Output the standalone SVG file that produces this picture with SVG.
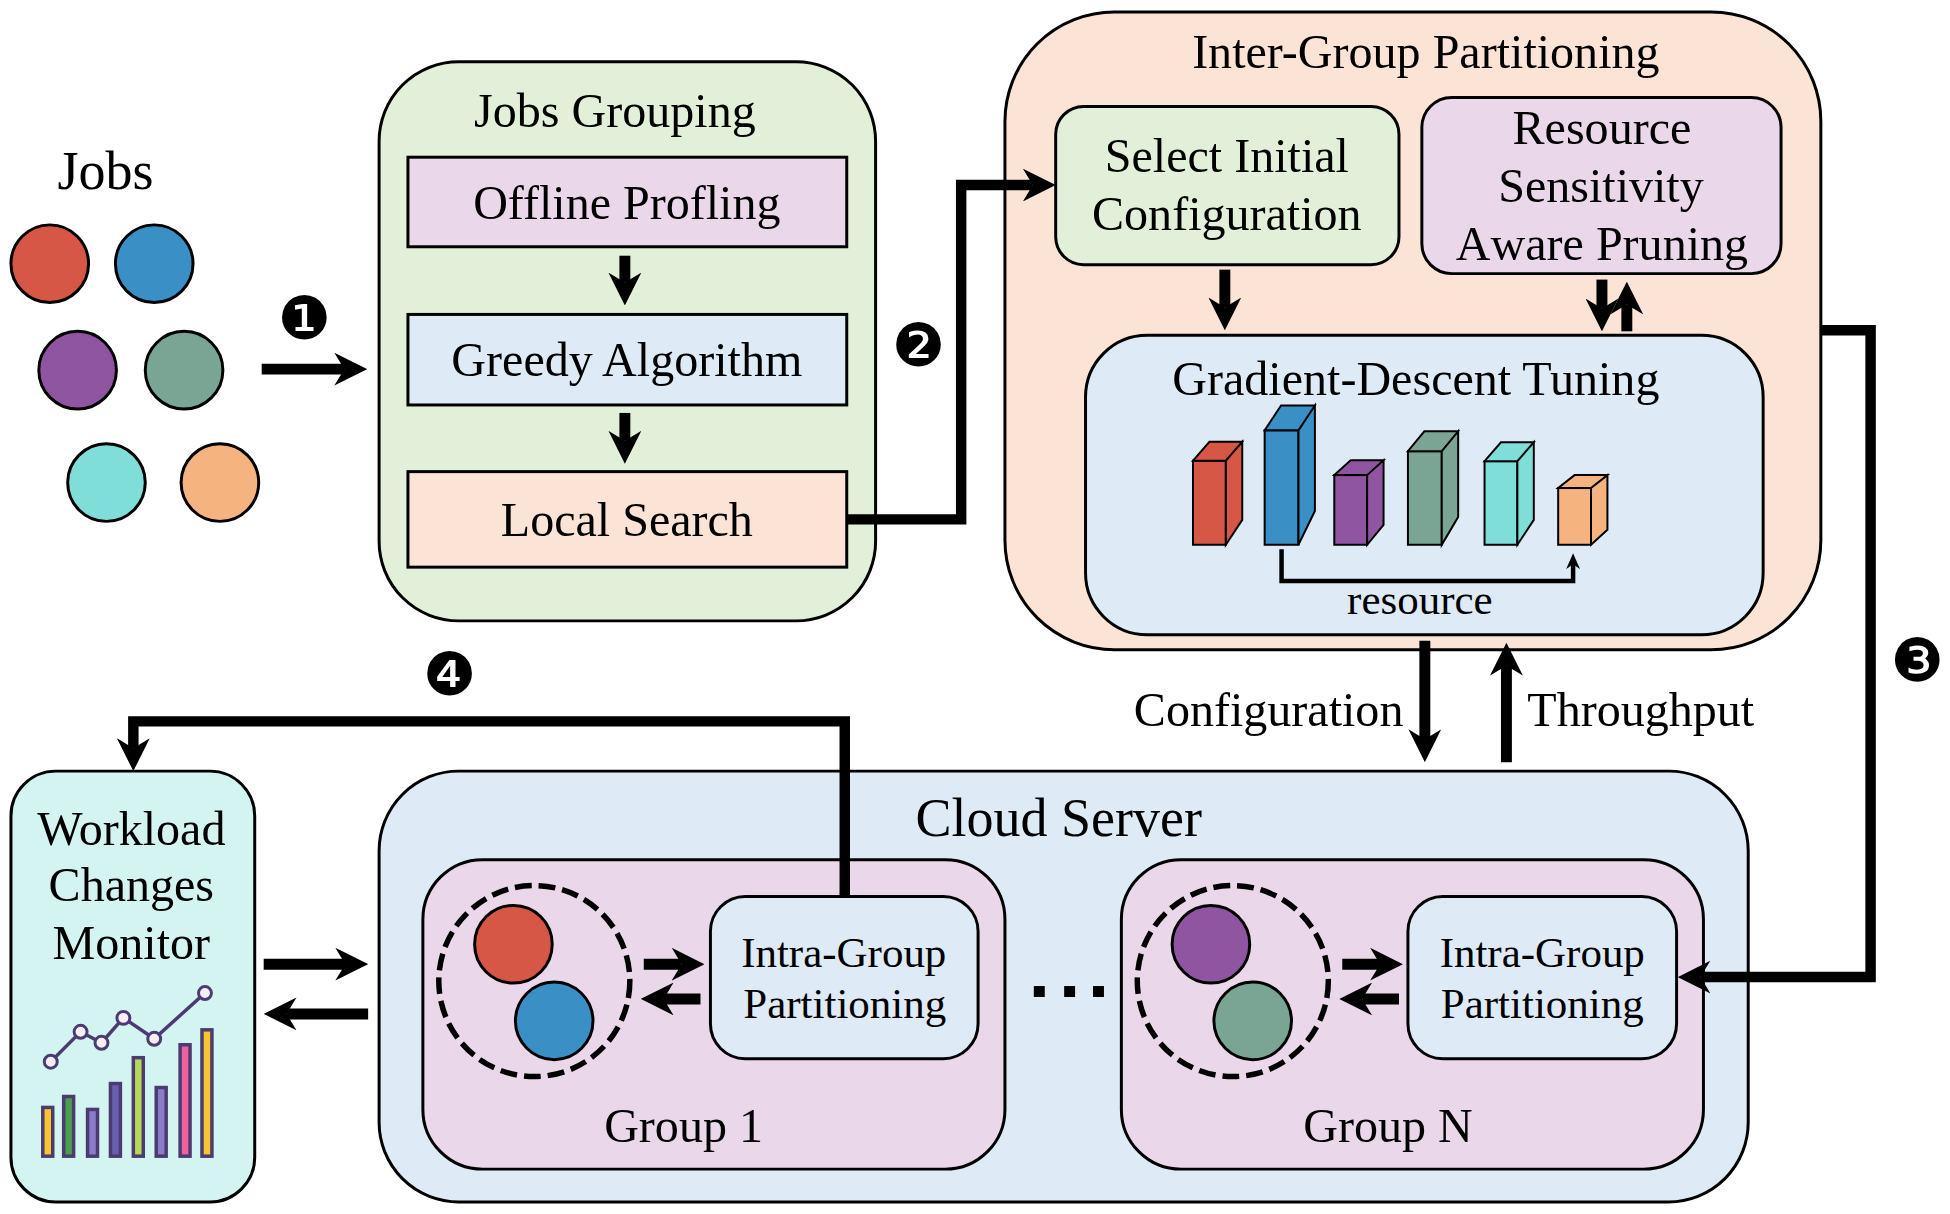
<svg xmlns="http://www.w3.org/2000/svg" width="1950" height="1214" viewBox="0 0 1950 1214">
<style>
text{font-family:"Liberation Serif","Times New Roman",serif;fill:#000;text-anchor:middle}
.f48{font-size:48.300px}.f43{font-size:43.200px}.f54{font-size:54.300px}
.nokern{font-kerning:none}
.badge{font-family:"DejaVu Sans",sans-serif;font-size:60px}
.b{stroke:#000;stroke-width:3}
.thin{stroke:#000;stroke-width:2}
.green{fill:#e2efd9}.purple{fill:#ead7ea}.blue{fill:#deeaf6}.peach{fill:#fbe4d5}.mint{fill:#d3f4f0}
.jr{fill:#d65745}.jb{fill:#3a8fc4}.jp{fill:#9055a0}.jg{fill:#7aa595}.jt{fill:#7fdfd8}.jo{fill:#f5b380}
.bar{stroke:#4b3b70;stroke-width:3.500}
.pt{fill:#f6eef6;stroke:#4b3b70;stroke-width:3}
.arrow{fill:none;stroke:#000;stroke-width:11;marker-end:url(#head)}
.route{fill:none;stroke:#000;stroke-width:10.500;marker-end:url(#head)}
.dash{fill:none;stroke:#000;stroke-width:5.500;stroke-dasharray:17 7}
</style>
<defs>
<marker id="head" markerUnits="userSpaceOnUse" markerWidth="33" markerHeight="33" viewBox="0 0 33 33" refX="10" refY="16.5" orient="auto"><path d="M0,0L33,16.5L0,33L10,16.5Z" fill="#000"/></marker>
<marker id="headS" markerUnits="userSpaceOnUse" markerWidth="16" markerHeight="14" viewBox="0 0 16 14" refX="5" refY="7" orient="auto"><path d="M0,0L16,7L0,14L5,7Z" fill="#000"/></marker>
</defs>
<g id="diagram" transform="scale(0.995)">

<g id="jobs">
<text class="f54" x="106" y="190">Jobs</text>
<circle class="b jr" cx="50" cy="265" r="39"/>
<circle class="b jb" cx="155" cy="265" r="39"/>
<circle class="b jp" cx="78" cy="372" r="39"/>
<circle class="b jg" cx="185" cy="372" r="39"/>
<circle class="b jt" cx="107" cy="485" r="39"/>
<circle class="b jo" cx="221" cy="485" r="39"/>
</g>

<g id="jobs-grouping">
<rect class="b green" x="381" y="62" width="499" height="562" rx="80"/>
<text class="f48" x="618" y="128">Jobs Grouping</text>
</g>
<g id="offline-profiling">
<rect class="b purple" x="410" y="158" width="441" height="90"/>
<text class="f48" x="630" y="220">Offline Profling</text>
</g>
<g id="greedy-algorithm">
<rect class="b blue" x="410" y="316" width="441" height="91"/>
<text class="f48" x="630" y="378">Greedy Algorithm</text>
</g>
<g id="local-search">
<rect class="b peach" x="410" y="474" width="441" height="96"/>
<text class="f48" x="630" y="539">Local Search</text>
</g>

<g id="inter-group">
<rect class="b peach" x="1010" y="12" width="820" height="641" rx="110"/>
<text class="f48" x="1433" y="68">Inter-Group Partitioning</text>
</g>
<g id="select-initial">
<rect class="b green" x="1061" y="107" width="345" height="159" rx="28"/>
<text class="f48" x="1233" y="173">Select Initial</text>
<text class="f48" x="1233" y="231">Configuration</text>
</g>
<g id="pruning">
<rect class="b purple" x="1429" y="98" width="361" height="177" rx="30"/>
<text class="f48" x="1610" y="145">Resource</text>
<text class="f48" x="1609" y="203">Sensitivity</text>
<text class="f48 nokern" x="1610" y="261">Aware Pruning</text>
</g>
<g id="gradient-tuning">
<rect class="b blue" x="1091" y="337" width="681" height="301" rx="62"/>
<text class="f48" x="1423" y="397">Gradient-Descent Tuning</text>
<g class="cubes" transform="translate(0 2.500)">
<rect class="thin jr" x="1199" y="460.500" width="33" height="84.500"/>
<path class="thin jr" d="M1199,460.500L1232,460.500L1248.500,441.500L1215.500,441.500ZM1232,460.500L1248.500,441.500L1248.500,520L1232,545Z"/>
<rect class="thin jb" x="1271" y="430" width="34" height="115"/>
<path class="thin jb" d="M1271,430L1305,430L1321.500,405L1287.500,405ZM1305,430L1321.500,405L1321.500,511L1305,545Z"/>
<rect class="thin jp" x="1341" y="475" width="33" height="70"/>
<path class="thin jp" d="M1341,475L1374,475L1390.500,460L1357.500,460ZM1374,475L1390.500,460L1390.500,525L1374,545Z"/>
<rect class="thin jg" x="1415" y="451" width="34" height="94"/>
<path class="thin jg" d="M1415,451L1449,451L1465.500,431L1431.500,431ZM1449,451L1465.500,431L1465.500,517L1449,545Z"/>
<rect class="thin jt" x="1492" y="461" width="33" height="84"/>
<path class="thin jt" d="M1492,461L1525,461L1541.500,442L1508.500,442ZM1525,461L1541.500,442L1541.500,520L1525,545Z"/>
<rect class="thin jo" x="1566" y="488" width="33" height="57"/>
<path class="thin jo" d="M1566,488L1599,488L1615.500,475L1582.500,475ZM1599,488L1615.500,475L1615.500,530L1599,545Z"/>
</g>
<text class="f43" x="1427" y="617">resource</text>
</g>

<g id="cloud-server">
<rect class="b blue" x="381" y="775" width="1376" height="433" rx="80"/>
<text class="f54" x="1064" y="840">Cloud Server</text>
<rect x="1039" y="991" width="11" height="11" fill="#000"/>
<rect x="1069.500" y="991" width="11" height="11" fill="#000"/>
<rect x="1098.500" y="991" width="11" height="11" fill="#000"/>
</g>

<g id="group-1">
<rect class="b purple" x="425" y="864" width="585" height="311" rx="60"/>
<circle class="dash" cx="537" cy="986" r="96"/>
<circle class="b jr" cx="516" cy="949" r="39"/>
<circle class="b jb" cx="557" cy="1026" r="39"/>
<text class="f48" x="687" y="1148">Group 1</text>
</g>
<g id="intra-1">
<rect class="b blue" x="714" y="901" width="269" height="163" rx="35"/>
<text class="f43" x="848" y="972">Intra-Group</text>
<text class="f43" x="849" y="1023">Partitioning</text>
</g>
<g id="group-n">
<rect class="b purple" x="1127" y="864" width="585" height="311" rx="60"/>
<circle class="dash" cx="1239" cy="986" r="96"/>
<circle class="b jp" cx="1217" cy="949" r="39"/>
<circle class="b jg" cx="1259" cy="1026" r="39"/>
<text class="f48" x="1395" y="1148">Group N</text>
</g>
<g id="intra-n">
<rect class="b blue" x="1415" y="901" width="270" height="163" rx="35"/>
<text class="f43" x="1550" y="972">Intra-Group</text>
<text class="f43" x="1550" y="1023">Partitioning</text>
</g>

<g id="workload-monitor">
<rect class="b mint" x="11" y="775" width="245" height="433" rx="45"/>
<text class="f48" x="132" y="849">Workload</text>
<text class="f48" x="132" y="906">Changes</text>
<text class="f48" x="132" y="964">Monitor</text>
<g transform="translate(0 6)">
<rect class="bar" x="43" y="1107" width="10" height="49" fill="#f7c52f"/>
<rect class="bar" x="64" y="1096" width="10" height="60" fill="#4a9e4e"/>
<rect class="bar" x="88" y="1109" width="10" height="47" fill="#8a7cc8"/>
<rect class="bar" x="111" y="1083" width="10" height="73" fill="#6a5fae"/>
<rect class="bar" x="134" y="1057" width="10" height="99" fill="#b3d957"/>
<rect class="bar" x="157" y="1087" width="10" height="69" fill="#8a7cc8"/>
<rect class="bar" x="181" y="1044" width="10" height="112" fill="#f0609e"/>
<rect class="bar" x="203" y="1029" width="10" height="127" fill="#f7c52f"/>
<polyline points="51,1061 81,1031 102,1042 124,1017 155,1038 206,992" fill="none" stroke="#4b3b70" stroke-width="3.500"/>
<circle class="pt" cx="51" cy="1061" r="6.500"/>
<circle class="pt" cx="81" cy="1031" r="6.500"/>
<circle class="pt" cx="102" cy="1042" r="6.500"/>
<circle class="pt" cx="124" cy="1017" r="6.500"/>
<circle class="pt" cx="155" cy="1038" r="6.500"/>
<circle class="pt" cx="206" cy="992" r="6.500"/>
</g>
</g>

<g id="connectors">
<path class="arrow" d="M263,371H346"/>
<path class="arrow" d="M628,257V284"/>
<path class="arrow" d="M628,415V443"/>
<path class="route" d="M851,522H966V186H1038"/>
<path class="arrow" d="M1231,271V309"/>
<path class="arrow" d="M1610,281V310"/>
<path class="arrow" d="M1635,333V306"/>
<path class="route" d="M1830,332H1880V982H1709"/>
<path class="arrow" d="M1432,644V743"/>
<path class="arrow" d="M1514,766V669"/>
<path class="route" d="M849,901V725H134V752"/>
<path class="arrow" d="M265,969H347"/>
<path class="arrow" d="M370,1019H288"/>
<path class="arrow" d="M647,969H685"/>
<path class="arrow" d="M704,1004H667"/>
<path class="arrow" d="M1349,969H1387"/>
<path class="arrow" d="M1406,1004H1369"/>
<path d="M1288,552V584H1581V567" fill="none" stroke="#000" stroke-width="4.500" marker-end="url(#headS)"/>
</g>

<g id="connector-labels">
<text class="f48" x="1275" y="730">Configuration</text>
<text class="f48" x="1649" y="730">Throughput</text>
</g>

<g id="step-labels">
<text class="badge" x="306" y="341">❶</text>
<text class="badge" x="923" y="368">❷</text>
<text class="badge" x="1927" y="684">❸</text>
<text class="badge" x="452" y="698">❹</text>
</g>
</g>
</svg>
